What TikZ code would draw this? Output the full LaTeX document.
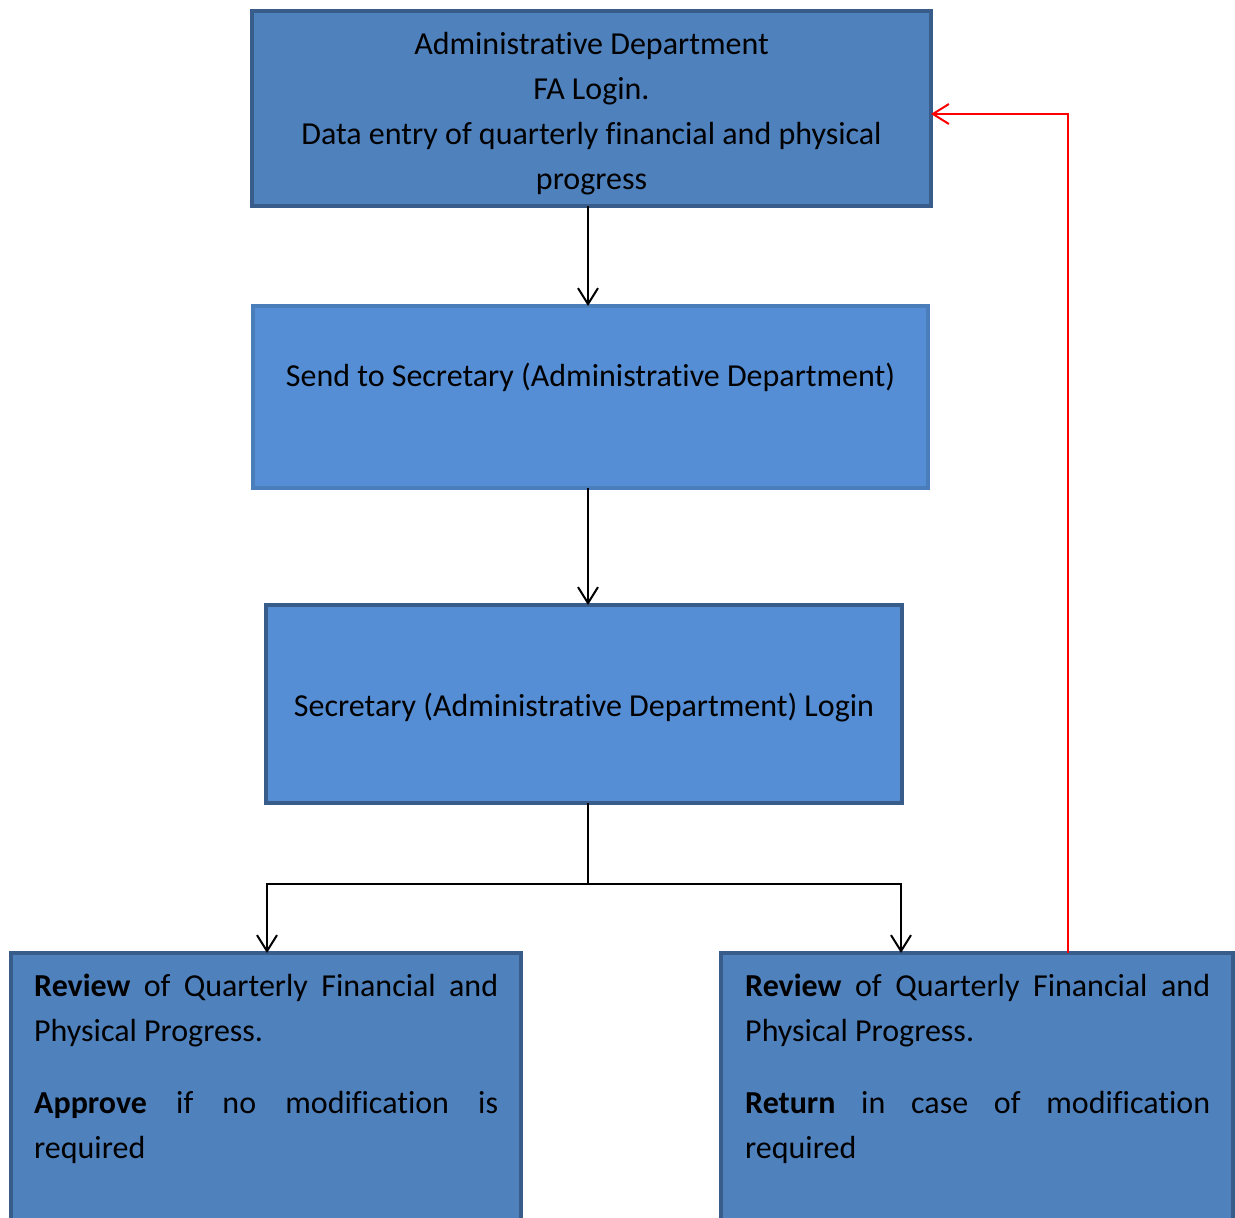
\documentclass[tikz,border=0pt]{standalone}
\usepackage{fontspec}
\setmainfont{Carlito}[Ligatures=NoCommon]
\usetikzlibrary{arrows.meta}
\definecolor{fillA}{HTML}{4F81BD}
\definecolor{fillB}{HTML}{558ED5}
\definecolor{edgeA}{HTML}{385D8A}
\definecolor{edgeB}{HTML}{4A7EBB}
\tikzset{
  boxbase/.style={rectangle, line width=3.5pt, inner sep=0pt, outer sep=0pt},
  darkbox/.style={boxbase, fill=fillA, draw=edgeA},
  lightbox/.style={boxbase, fill=fillB, draw=edgeB},
  lightdark/.style={boxbase, fill=fillB, draw=edgeA},
  txt/.style={font=\fontsize{32}{45}\selectfont, text=black},
  arr/.style={line width=2pt, -{Straight Barb[length=16pt,width=20pt,line width=2pt]}},
  redarr/.style={line width=2pt, draw=red, -{Straight Barb[length=16pt,width=20pt,line width=2pt]}},
  plain/.style={line width=2pt}
}
\begin{document}
\begin{tikzpicture}[x=1pt,y=-1pt]
\path[use as bounding box, clip] (0,0) rectangle (1235,1218);
\fill[white] (0,0) rectangle (1235,1218);

% boxes
\node[darkbox, minimum width=679pt, minimum height=195pt] (a) at (591.5,108.5) {};
\node[txt, align=center, inner sep=0pt] (at) at (591.5,113.5)
  {Administrative Department\\FA Login.\\Data entry of quarterly financial and physical\\progress};
\node[lightbox, minimum width=675pt, minimum height=182pt] (b) at (590.5,397) {};
\node[txt, anchor=center] (bt) at (590.5,377) {Send to Secretary (Administrative Department)};
\node[lightdark, minimum width=636pt, minimum height=198pt] (c) at (584,704) {};
\node[txt, inner sep=3pt] (ct) at (584,708) {Secretary (Administrative Department) Login};
\node[darkbox, minimum width=510pt, minimum height=300pt, anchor=north] (d) at (266,953) {};
\node[darkbox, minimum width=512pt, minimum height=300pt, anchor=north] (e) at (977,953) {};

\node[txt, anchor=north west, text width=464pt, align=justify, inner sep=0pt] (dt) at (34,974)
  {\setlength{\parskip}{27pt}\textbf{Review} of Quarterly Financial and\linebreak Physical Progress.\par
   \textbf{Approve} if no modification is\linebreak required\par};
\node[txt, anchor=north west, text width=465pt, align=justify, inner sep=0pt] (et) at (745,974)
  {\setlength{\parskip}{27pt}\textbf{Review} of Quarterly Financial and\linebreak Physical Progress.\par
   \textbf{Return} in case of modification\linebreak required\par};

% connectors
\coordinate (a1) at (588,206);
\coordinate (b1) at (588,306);
\coordinate (b2) at (588,488);
\coordinate (c1) at (588,605);
\coordinate (c2) at (588,803);
\coordinate (j) at (588,884);
\coordinate (dn) at (267,953);
\coordinate (en) at (901,953);
\coordinate (rs) at (1068,953);
\coordinate (rt) at (931,114);

\draw[arr] (a1) -- (b1);
\draw[arr] (b2) -- (c1);
\draw[plain] (c2) -- (j);
\draw[arr] (j) -| (dn);
\draw[arr] (j) -| (en);
\draw[redarr] (rs) |- (rt);
\end{tikzpicture}
\end{document}
